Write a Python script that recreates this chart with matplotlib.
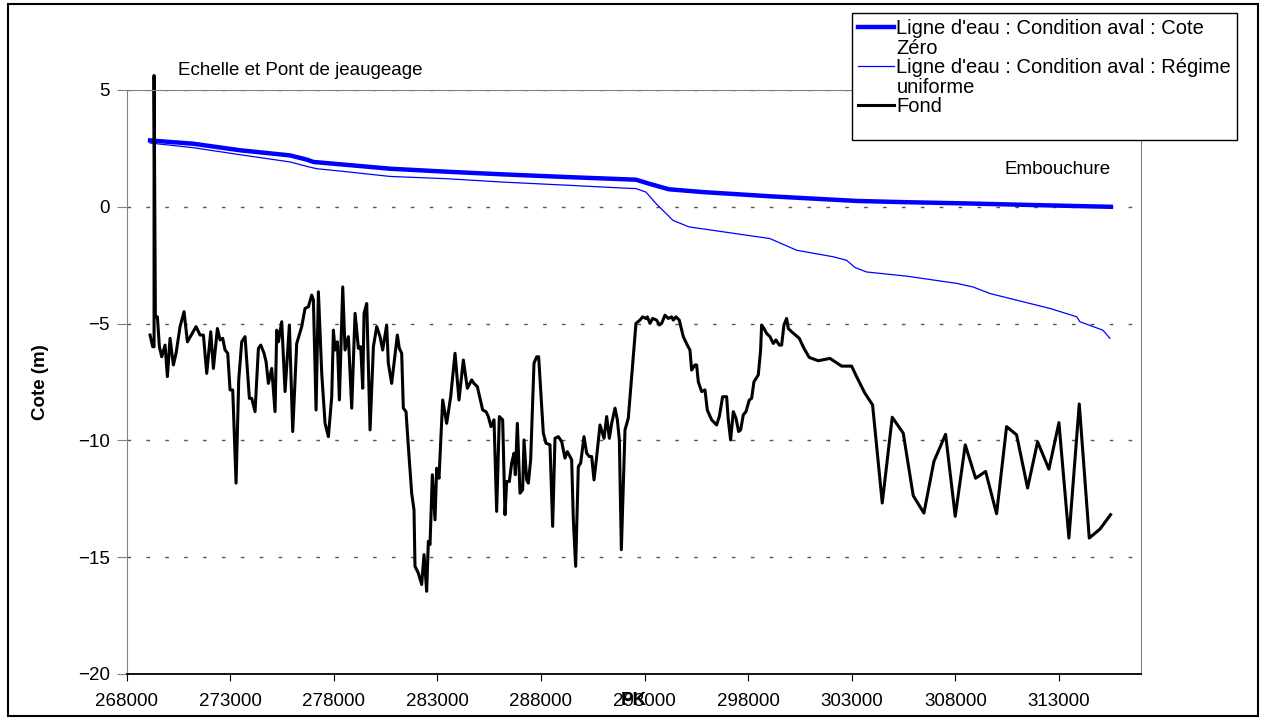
# %%
import matplotlib.pyplot as plt
from matplotlib.lines import Line2D
from matplotlib.patches import Rectangle

plt.rcParams['font.family'] = ['Liberation Sans', 'DejaVu Sans']

# %% données lues sur le graphique
# ligne d'eau, condition aval : cote zéro
pk_cote_zero = [269130, 271221, 273474, 275888, 276692, 277014, 278301, 280714,
                283500, 286117, 289350, 292000, 292584, 293211, 294176, 295817,
                299050, 303249, 305500, 308750, 312000, 315507]
cote_zero = [2.84, 2.70, 2.42, 2.20, 2.02, 1.92, 1.82, 1.63,
             1.50, 1.39, 1.27, 1.18, 1.16, 0.99, 0.75, 0.63,
             0.45, 0.25, 0.20, 0.14, 0.07, 0.00]

# ligne d'eau, condition aval : régime uniforme
pk_uniforme = [269130, 271221, 273474, 275888, 276692, 277175, 278301, 280714,
               283500, 286117, 289350, 292000, 292584, 293066, 293549, 294370,
               295142, 297410, 299050, 300339, 302109, 302752, 303155, 303718,
               305661, 308074, 308846, 309666, 310969, 312562, 313865, 314010,
               315120, 315459]
cote_uniforme = [2.73, 2.53, 2.23, 1.92, 1.73, 1.63, 1.53, 1.30,
                 1.20, 1.06, 0.92, 0.80, 0.78, 0.63, 0.14, -0.58,
                 -0.86, -1.15, -1.36, -1.86, -2.14, -2.29, -2.60, -2.79,
                 -2.97, -3.28, -3.43, -3.71, -4.00, -4.35, -4.71, -4.92,
                 -5.28, -5.63]

# fond du lit
pk_fond = [
    269130, 269258, 269323, 269323, 269387, 269484, 269580, 269693, 269854, 269966,
    270095, 270256, 270385, 270578, 270771, 270932, 271350, 271543, 271704, 271865,
    272058, 272187, 272380, 272509, 272637, 272750, 272879, 272991, 273120, 273281,
    273410, 273554, 273715, 273924, 274037, 274198, 274359, 274472, 274632, 274729,
    274842, 275002, 275163, 275244, 275325, 275485, 275646, 275855, 276016, 276209,
    276450, 276611, 276772, 276933, 277014, 277143, 277255, 277416, 277577, 277738,
    277899, 277980, 278060, 278172, 278269, 278430, 278542, 278703, 278864, 279025,
    279186, 279298, 279395, 279459, 279588, 279749, 279910, 280071, 280232,
    280358, 280551, 280631, 280792, 281066, 281162, 281275, 281355, 281484, 281597,
    281758, 281870, 281918, 282079, 282240, 282353, 282482, 282562, 282643, 282755,
    282884, 282964, 283077, 283254, 283447, 283640, 283850, 284042, 284252, 284445,
    284654, 284766, 284927, 285056, 285185, 285346, 285458, 285587, 285732, 285860,
    285989, 286150, 286263, 286343, 286472, 286584, 286697, 286761, 286858, 286987,
    287115, 287180, 287308, 287389, 287501, 287662, 287791, 287887, 288112, 288241,
    288434, 288563, 288676, 288837, 288998, 289158, 289271, 289480, 289561, 289673,
    289802, 289915, 290076, 290204, 290333, 290446, 290559, 290688, 290848, 291042,
    291170, 291299, 291412, 291573, 291685, 291782, 291878, 292055,
    292214, 292375, 292584, 292777, 292906, 293067, 293131, 293260, 293388, 293581,
    293710, 293823, 293984, 294145, 294305, 294386, 294515, 294675, 294869, 295062,
    295190, 295271, 295432, 295512, 295593, 295754, 295915, 296027, 296236, 296478,
    296606, 296767, 296960, 297040, 297153, 297282, 297410, 297539, 297636, 297764,
    297893, 298054, 298167, 298279, 298488, 298601, 298649, 298762, 298890, 299051,
    299212, 299341, 299502, 299615, 299727, 299856, 299937, 300097, 300467, 300693,
    300950, 301385, 301948, 302188, 302510, 302993,
    303233, 303635, 304005, 304472, 304954, 305485, 305968, 306483, 306966, 307529,
    307995, 308478, 308977, 309460, 309991, 310473, 310956, 311487, 311970, 312517,
    313000, 313482, 313981, 314464, 314978, 315493]
cote_fond = [
    -5.49, -5.99, -5.99, 5.62, -4.71, -4.71, -5.99, -6.42, -5.92, -7.27,
    -5.63, -6.77, -6.27, -5.13, -4.49, -5.78, -5.13, -5.49, -5.49, -7.13,
    -5.35, -6.92, -5.21, -5.70, -5.63, -6.13, -6.27, -7.84, -7.84, -11.83,
    -7.41, -5.78, -5.56, -8.20, -8.20, -8.77, -6.06, -5.92, -6.27, -6.63,
    -7.56, -6.92, -8.77, -5.28, -5.78, -4.92, -7.91, -5.06, -9.62, -5.85,
    -5.13, -4.35, -4.28, -3.78, -3.99, -8.70, -3.64, -7.13, -9.27, -9.84,
    -8.13, -5.28, -6.13, -5.78, -8.27, -3.43, -6.13, -5.56, -8.62, -4.56,
    -6.06, -5.99, -7.77, -4.56, -4.14, -9.55, -5.99, -5.13, -5.56,
    -6.13, -5.06, -6.70, -7.56, -5.49, -6.06, -6.27, -8.62, -8.77, -10.26,
    -12.26, -12.97, -15.39, -15.68, -16.17, -14.89, -16.46, -14.32, -14.46, -11.47,
    -13.40, -11.19, -11.62, -8.27, -9.27, -8.13, -6.27, -8.27, -6.56, -7.77,
    -7.41, -7.56, -7.70, -8.20, -8.70, -8.77, -8.98, -9.41, -9.12, -13.04,
    -8.98, -9.12, -13.18, -11.76, -11.76, -10.97, -10.55, -11.47, -9.27, -12.26,
    -12.11, -9.98, -11.69, -11.83, -10.83, -6.70, -6.42, -6.42, -9.69, -10.12,
    -10.19, -13.68, -9.91, -9.84, -10.05, -10.76, -10.48, -10.83, -13.40, -15.39,
    -11.12, -10.97, -9.84, -10.55, -10.69, -10.69, -11.69, -10.69, -9.34, -9.91,
    -8.98, -9.91, -9.27, -8.62, -9.12, -9.98, -14.68, -9.55,
    -9.05, -7.27, -4.99, -4.85, -4.71, -4.78, -4.71, -4.99, -4.78, -4.85,
    -5.06, -4.99, -4.64, -4.78, -4.71, -4.85, -4.71, -4.85, -5.56, -5.92,
    -6.13, -6.99, -6.77, -6.77, -7.49, -7.91, -7.84, -8.70, -9.12, -9.34,
    -8.98, -8.13, -8.13, -9.12, -9.98, -8.77, -9.05, -9.62, -9.55, -8.91,
    -8.77, -8.27, -8.20, -7.49, -7.20, -6.13, -5.06, -5.21, -5.42, -5.56,
    -5.85, -5.70, -5.92, -5.92, -5.06, -4.78, -5.21, -5.35, -5.63, -6.06,
    -6.45, -6.59, -6.49, -6.63, -6.82, -6.82,
    -7.27, -7.98, -8.48, -12.68, -9.01, -9.69, -12.37, -13.11, -10.90, -9.74,
    -13.25, -10.19, -11.62, -11.33, -13.14, -9.41, -9.76, -12.04, -10.06, -11.23,
    -9.24, -14.18, -8.44, -14.18, -13.80, -13.18]

x_ticks = [268000, 273000, 278000, 283000, 288000, 293000, 298000, 303000, 308000, 313000]
y_ticks = [-20, -15, -10, -5, 0, 5]

labels = ["Ligne d'eau : Condition aval : Cote\nZéro",
          "Ligne d'eau : Condition aval : Régime\nuniforme",
          "Fond"]

# %%
fig = plt.figure(figsize=(12.64, 7.2), dpi=100)
ax = fig.add_axes([0.1002, 0.0639, 0.8023, 0.8111])

l1, = ax.plot(pk_cote_zero, cote_zero, color='#0000ff', lw=3.2)
l2, = ax.plot(pk_uniforme, cote_uniforme, color='#0000ff', lw=0.9)
l3, = ax.plot(pk_fond, cote_fond, color='black', lw=2.2, clip_on=False)

ax.set_xlim(268000, 316950)
ax.set_ylim(-20, 5)
ax.set_xticks(x_ticks)
ax.set_yticks(y_ticks)
ax.set_xticklabels([str(t) for t in x_ticks])
ax.yaxis.grid(True, color='#555555', lw=1, linestyle=(0, (2.6, 11)))

for side in ['top', 'right', 'left']:
    ax.spines[side].set_color('#808080')
ax.spines['bottom'].set_color('black')
ax.spines['bottom'].set_linewidth(1.3)

ax.tick_params(axis='y', direction='out', length=7, color='#808080', pad=5, labelsize=13.5)
ax.tick_params(axis='x', direction='out', length=5, color='black', pad=9, labelsize=13.5)

ax.set_xlabel('PK', fontsize=13.5, fontweight='bold')
ax.xaxis.label.set_va('center')
ax.xaxis.set_label_coords(0.5, -0.045)
ax.set_ylabel('Cote (m)', fontsize=13.5, fontweight='bold')
ax.yaxis.label.set_va('center')
ax.yaxis.set_label_coords(-0.085, 0.5)

ax.text(270490, 5.83, 'Echelle et Pont de jeaugeage', fontsize=13.5, ha='left', va='center')
ax.text(315500, 1.6, 'Embouchure', fontsize=13.5, ha='right', va='center')

# légende façon Excel : une ligne par rangée de texte
blank = Line2D([], [], color='none')
handles = [l1, blank, l2, blank, l3, blank]
texts = []
for lab in labels:
    texts += lab.split('\n') if '\n' in lab else [lab, ' ']
leg = fig.legend(handles, texts, loc='upper left', bbox_to_anchor=(852 / 1264, 1 - 13 / 720),
                 fontsize=14.5, frameon=True, fancybox=False, edgecolor='black',
                 framealpha=1, borderaxespad=0, borderpad=0.3, labelspacing=0.03,
                 handlelength=1.8, handletextpad=0.1)
leg.get_frame().set_linewidth(1)
leg.get_texts()[-1].set_fontsize(9)

fig.add_artist(Rectangle((8 / 1264, 4 / 720), 1250 / 1264, 712 / 720, transform=fig.transFigure,
                         fill=False, edgecolor='black', lw=1.5))

fig.savefig('out.png', dpi=100)
